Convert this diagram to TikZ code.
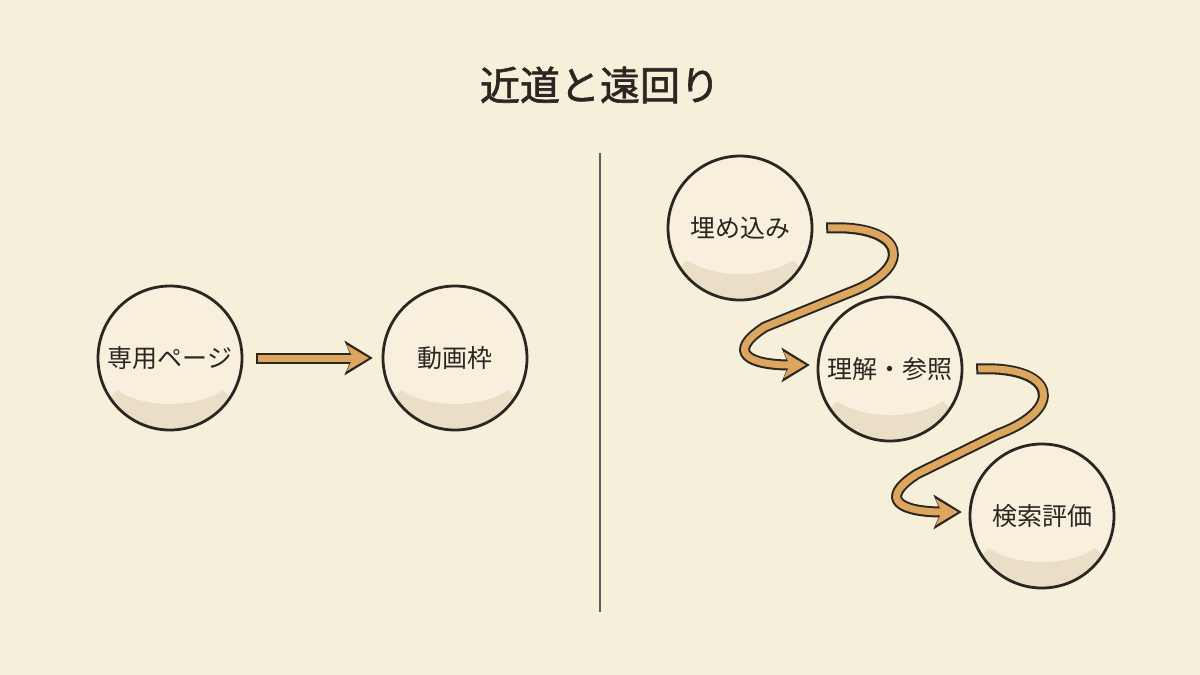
\documentclass[tikz,border=0pt]{standalone}
\usepackage{fontspec}
\setmainfont{Noto Sans CJK JP}
\usetikzlibrary{arrows.meta,calc}
\definecolor{bg}{HTML}{F6EFD9}
\definecolor{ink}{HTML}{2A2622}
\definecolor{fillc}{HTML}{F8F0DD}
\definecolor{shadec}{HTML}{EADFC6}
\definecolor{tan}{HTML}{DDA65F}
\tikzset{
  bub/.style={circle, minimum size=144pt, inner sep=0pt, font=\fontsize{25}{28}\selectfont, text=ink},
  arrout/.style={line width=11pt, draw=ink, -{Stealth[length=28pt,width=34pt,inset=7pt]}},
  arrin/.style={line width=7pt, draw=tan, shorten >=4pt, -{Stealth[length=22pt,width=26pt,inset=6pt]}}
}
\newcommand{\bubble}[3]{%
  \fill[fillc] (#1) circle (72);
  \begin{scope}\clip (#1) circle (72);
    \fill[shadec] ($(#1)+(0,48)$) ellipse (62 and 30);
    \fill[fillc] ($(#1)+(0,6)$) ellipse (70 and 40);
  \end{scope}
  \node[bub] (#2) at (#1) {#3};
  \draw[ink, line width=2.8pt] (#1) circle (72);
}
\begin{document}
\begin{tikzpicture}[x=1pt,y=-1pt]
\fill[bg] (0,0) rectangle (1200,675);
\useasboundingbox (0,0) rectangle (1200,675);
\node[text=ink, font=\fontsize{40}{44}\selectfont\addfontfeatures{FakeBold=1.5}] (title) at (600,85) {近道と遠回り};
\coordinate (d1) at (600,153); \coordinate (d2) at (600,612);
\draw[ink!75, line width=1.5pt] (d1) -- (d2);
\coordinate (c1) at (170,358); \bubble{c1}{a}{専用ページ}
\coordinate (c2) at (455,358); \bubble{c2}{b}{動画枠}
\coordinate (c3) at (740,228); \bubble{c3}{c}{埋め込み}
\coordinate (c4) at (890,369); \bubble{c4}{d}{理解・参照}
\coordinate (c5) at (1042,516); \bubble{c5}{e}{検索評価}
% straight arrow
\draw[arrout] ([xshift=14pt]a.east) -- ([xshift=-10pt]b.west);
\draw[arrin] ([xshift=15.5pt]a.east) -- ([xshift=-10pt]b.west);
% curved arrows
\foreach \s/\t in {c/d, d/e}{
  \coordinate (p0) at ([xshift=14pt]\s.east);
  \coordinate (p3) at ([xshift=-8pt,yshift=4pt]\t.west);
  \draw[arrout] (p0) .. controls ($(p0)+(80,-4)$) and ($(p0)+(90,40)$) .. ($(p0)+(22,65)$)
     -- ($(p3)+(-45,-38)$) .. controls ($(p3)+(-85,-12)$) and ($(p3)+(-60,0)$) .. (p3);
  \draw[arrin] ([xshift=2pt]p0) .. controls ($(p0)+(80,-4)$) and ($(p0)+(90,40)$) .. ($(p0)+(22,65)$)
     -- ($(p3)+(-45,-38)$) .. controls ($(p3)+(-85,-12)$) and ($(p3)+(-60,0)$) .. (p3);
}
\end{tikzpicture}
\end{document}
